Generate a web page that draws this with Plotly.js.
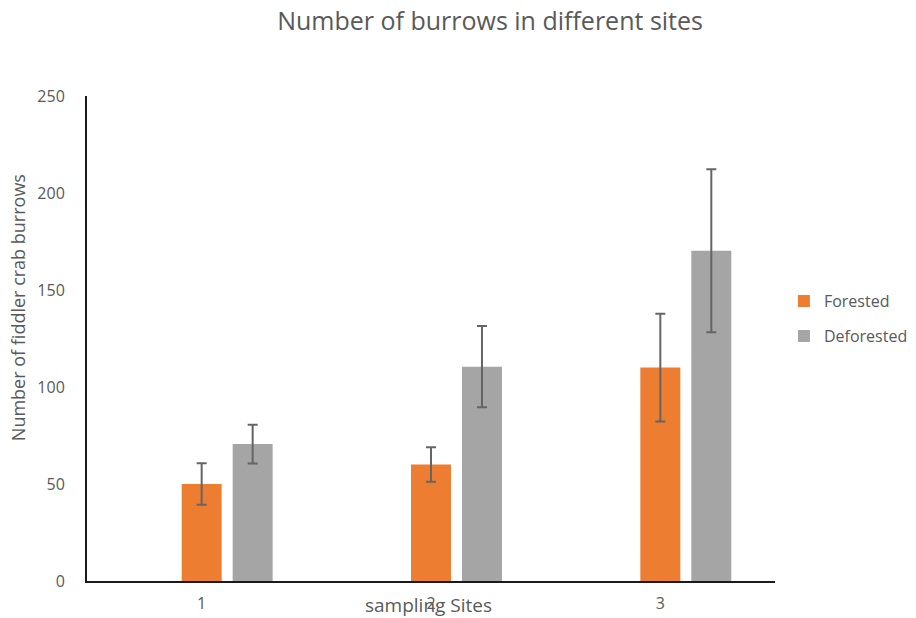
<!DOCTYPE html>
<html>
<head>
<meta charset="utf-8">
<script src="https://cdn.plot.ly/plotly-3.0.1.min.js"></script>
<style>html,body{margin:0;padding:0;background:#fff;}#chart{width:916px;height:618px;}</style>
</head>
<body>
<div id="chart"></div>
<script>
const sites = ["1", "2", "3"];
const forested = [50, 60, 110];
const forestedErr = [10.7, 8.9, 27.8];
const deforested = [70.6, 110.5, 170.2];
const deforestedErr = [10, 21, 42];
const emptySeries = [null, null, null];
const yTicks = [0, 50, 100, 150, 200, 250];

const gray = "#595959";
const font = "Open Sans, Noto Sans, sans-serif";

const errStyle = {type: "data", visible: true, color: "#656565", thickness: 2, width: 5};

const traces = [
  {type: "bar", name: "", x: sites, y: emptySeries, showlegend: false, hoverinfo: "skip", marker: {color: "rgba(0,0,0,0)"}},
  {type: "bar", name: "Forested", legendgroup: "f", x: sites, y: forested, marker: {color: "#ED7D31"},
   error_y: Object.assign({array: forestedErr}, errStyle)},
  {type: "bar", name: "Deforested", legendgroup: "d", x: sites, y: deforested, marker: {color: "#A5A5A5"},
   error_y: Object.assign({array: deforestedErr}, errStyle)}
];

const layout = {
  width: 916, height: 618,
  margin: {l: 87, r: 141, t: 96, b: 37, autoexpand: false},
  paper_bgcolor: "#fff", plot_bgcolor: "#fff",
  font: {family: font, color: gray, size: 15},
  title: {text: "Number of burrows in different sites", x: 0.535, xanchor: "center", y: 0.965, yanchor: "middle",
          font: {family: font, size: 25, color: gray}},
  barmode: "group",
  bargap: 0.333,
  bargroupgap: 0.216,
  xaxis: {
    type: "category", showgrid: false, zeroline: false, automargin: false,
    showline: true, linecolor: "#1a1a1a", linewidth: 2,
    ticks: "", tickfont: {size: 16, color: gray}, ticklabelstandoff: 7
  },
  yaxis: {
    range: [0, 250], tickvals: yTicks, ticktext: yTicks.map(String), automargin: false,
    showgrid: false, zeroline: false,
    showline: true, linecolor: "#1a1a1a", linewidth: 2,
    ticks: "", tickfont: {size: 16, color: gray}, ticklabelstandoff: 17
  },
  legend: {
    x: 1.013, xanchor: "left", y: 0.612, yanchor: "top",
    traceorder: "grouped",
    font: {size: 16, color: gray}, itemwidth: 30, tracegroupgap: 11,
    bgcolor: "rgba(0,0,0,0)"
  },
  annotations: [
    {text: "sampling Sites", xref: "paper", yref: "paper", x: 0.497, y: -0.05, xanchor: "center", yanchor: "middle",
     showarrow: false, font: {size: 19, color: gray}},
    {text: "Number of fiddler crab burrows", xref: "paper", yref: "paper", x: -0.1, xanchor: "center",
     y: 0.563, yanchor: "middle", textangle: -90, showarrow: false, font: {size: 18, color: gray}}
  ],
  showlegend: true
};

Plotly.newPlot("chart", traces, layout, {displayModeBar: false, staticPlot: true});
</script>
</body>
</html>
